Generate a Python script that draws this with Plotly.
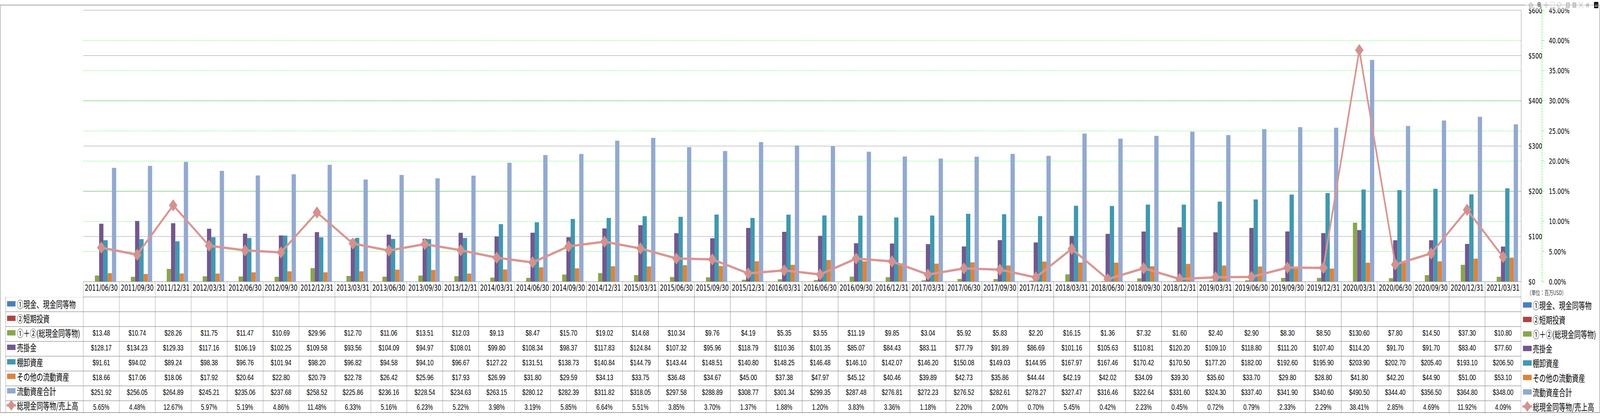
import plotly.graph_objects as go

categories = ["2011/06/30", "2011/09/30", "2011/12/31", "2012/03/31", "2012/06/30", "2012/09/30",
              "2012/12/31", "2013/03/31", "2013/06/30", "2013/09/30", "2013/12/31", "2014/03/31",
              "2014/06/30", "2014/09/30", "2014/12/31", "2015/03/31", "2015/06/30", "2015/09/30",
              "2015/12/31", "2016/03/31", "2016/06/30", "2016/09/30", "2016/12/31", "2017/03/31",
              "2017/06/30", "2017/09/30", "2017/12/31", "2018/03/31", "2018/06/30", "2018/09/30",
              "2018/12/31", "2019/03/31", "2019/06/30", "2019/09/30", "2019/12/31", "2020/03/31",
              "2020/06/30", "2020/09/30", "2020/12/31", "2021/03/31"]

cash_equiv = [None] * len(categories)          # ①現金、現金同等物 (no data)
short_invest = [None] * len(categories)        # ②短期投資 (no data)
total_cash = [13.48, 10.74, 28.26, 11.75, 11.47, 10.69, 29.96, 12.70, 11.06, 13.51, 12.03, 9.13,
              8.47, 15.70, 19.02, 14.68, 10.34, 9.76, 4.19, 5.35, 3.55, 11.19, 9.85, 3.04,
              5.92, 5.83, 2.20, 16.15, 1.36, 7.32, 1.60, 2.40, 2.90, 8.30, 8.50, 130.60,
              7.80, 14.50, 37.30, 10.80]
receivables = [128.17, 134.23, 129.33, 117.16, 106.19, 102.25, 109.58, 93.56, 104.09, 94.97, 108.01, 99.80,
               108.34, 98.37, 117.83, 124.84, 107.32, 95.96, 118.79, 110.36, 101.35, 85.07, 84.43, 83.11,
               77.79, 91.89, 86.69, 101.16, 105.63, 110.81, 120.20, 109.10, 118.80, 111.20, 107.40, 114.20,
               91.70, 91.70, 83.40, 77.60]
inventory = [91.61, 94.02, 89.24, 98.38, 96.76, 101.94, 98.20, 96.82, 94.58, 94.10, 96.67, 127.22,
             131.51, 138.73, 140.84, 144.79, 143.44, 148.51, 140.80, 148.25, 146.48, 146.10, 142.07, 146.20,
             150.08, 149.03, 144.95, 167.97, 167.46, 170.42, 170.50, 177.20, 182.00, 192.60, 195.90, 203.90,
             202.70, 205.40, 193.10, 206.50]
other_current = [18.66, 17.06, 18.06, 17.92, 20.64, 22.80, 20.79, 22.78, 26.42, 25.96, 17.93, 26.99,
                 31.80, 29.59, 34.13, 33.75, 36.48, 34.67, 45.00, 37.38, 47.97, 45.12, 40.46, 39.89,
                 42.73, 35.86, 44.44, 42.19, 42.02, 34.09, 39.30, 35.60, 33.70, 29.80, 28.80, 41.80,
                 42.20, 44.90, 51.00, 53.10]
total_current = [251.92, 256.05, 264.89, 245.21, 235.06, 237.68, 258.52, 225.86, 236.16, 228.54, 234.63, 263.15,
                 280.12, 282.39, 311.82, 318.05, 297.58, 288.89, 308.77, 301.34, 299.35, 287.48, 276.81, 272.23,
                 276.52, 282.61, 278.27, 327.47, 316.46, 322.64, 331.60, 324.30, 337.40, 341.90, 340.60, 490.50,
                 344.40, 356.50, 364.80, 348.00]
cash_to_sales = [5.65, 4.48, 12.67, 5.97, 5.19, 4.86, 11.48, 6.33, 5.16, 6.23, 5.22, 3.98,
                 3.19, 5.85, 6.64, 5.51, 3.85, 3.70, 1.37, 1.88, 1.20, 3.83, 3.36, 1.18,
                 2.20, 2.00, 0.70, 5.45, 0.42, 2.23, 0.45, 0.72, 0.79, 2.33, 2.29, 38.41,
                 2.85, 4.69, 11.92, 4.09]

bar_names = ["①現金、現金同等物", "②短期投資", "①＋②(総現金同等物)", "売掛金", "棚卸資産",
             "その他の流動資産", "流動資産合計"]
line_name = "総現金同等物/売上高"
bar_series = [cash_equiv, short_invest, total_cash, receivables, inventory, other_current, total_current]
bar_colors = ["#4A7EBB", "#AA4643", "#89A54E", "#71588F", "#4198AF", "#DB843D", "#93A9CF"]
line_color = "#D99694"

# ---- layout geometry (pixels) ----
W, H = 5877, 1071
PL, PR, PT, PB = 306, 5587, 15, 726
TL = 21
Y2X = 5664
HDR_H, ROW_H = 39, 38
GRAY = "#888888"
CJK = "Noto Sans CJK JP"


def px(x):
    return x / W


def py(y):
    return 1 - y / H


fig = go.Figure()

for name, vals, col in zip(bar_names, bar_series, bar_colors):
    fig.add_trace(go.Bar(x=categories, y=vals, name=name, marker=dict(color=col, line=dict(width=0)),
                         showlegend=False, xaxis="x", yaxis="y"))

fig.add_trace(go.Scatter(x=categories, y=cash_to_sales, name=line_name, mode="lines+markers",
                         line=dict(color=line_color, width=6),
                         marker=dict(symbol="diamond", size=24, color="#D4918F"),
                         showlegend=False, xaxis="x", yaxis="y2"))

# ---- data table ----
def money(v):
    return "" if v is None else "${:.2f}".format(v)


cell_cols = [[""] * 8]
for i in range(len(categories)):
    col = [money(s[i]) for s in bar_series] + ["{:.2f}%".format(cash_to_sales[i])]
    cell_cols.append(col)

ncol = len(categories)
col_w = (PR - PL) / ncol
fig.add_trace(go.Table(
    domain=dict(x=[px(TL), px(PR)], y=[0, py(PB)]),
    columnwidth=[PL - TL] + [col_w] * ncol,
    header=dict(values=[""] + categories, height=HDR_H, align="center",
                fill=dict(color="white"),
                line=dict(color=["rgba(0,0,0,0)"] + [GRAY] * ncol, width=1),
                font=dict(family="DejaVu Sans", size=21, color="black")),
    cells=dict(values=cell_cols, height=ROW_H, align="center",
               fill=dict(color="white"),
               line=dict(color=GRAY, width=1),
               font=dict(family="Liberation Sans", size=21, color="black")),
))

shapes = []
annotations = []

# figure border
shapes.append(dict(type="rect", xref="paper", yref="paper", x0=px(1), x1=px(W - 1), y0=py(H - 2), y1=py(1),
                   line=dict(color=GRAY, width=1.5), fillcolor="rgba(0,0,0,0)", layer="above"))
# secondary axis dashed line
shapes.append(dict(type="line", xref="paper", yref="paper", x0=px(Y2X), x1=px(Y2X), y0=py(PB), y1=py(PT),
                   line=dict(color="#00FF00", width=1.5, dash="4px,3px")))

labels = bar_names + [line_name]
row_centers = [PB + HDR_H + ROW_H * i + ROW_H / 2 for i in range(8)]


def add_key(i, bx0, bx1, tx, yc):
    if i < 7:
        shapes.append(dict(type="rect", xref="paper", yref="paper", x0=px(bx0), x1=px(bx1),
                           y0=py(yc + 7), y1=py(yc - 7), fillcolor=bar_colors[i], line=dict(width=0)))
    else:
        shapes.append(dict(type="line", xref="paper", yref="paper", x0=px(bx0 - 2), x1=px(bx1 + 2),
                           y0=py(yc), y1=py(yc), line=dict(color=line_color, width=6)))
        cx = (bx0 + bx1) / 2
        d = 14
        path = "M {} {} L {} {} L {} {} L {} {} Z".format(px(cx - d), py(yc), px(cx), py(yc - d),
                                                      px(cx + d), py(yc), px(cx), py(yc + d))
        shapes.append(dict(type="path", xref="paper", yref="paper", path=path,
                           fillcolor="#D4918F", line=dict(width=0)))
    annotations.append(dict(xref="paper", yref="paper", x=px(tx), y=py(yc), xanchor="left", yanchor="middle",
                            text=labels[i], showarrow=False,
                            font=dict(family=CJK, size=24, color="black")))


for i, yc in enumerate(row_centers):
    add_key(i, 26, 57, 60, yc)
    add_key(i, 5594, 5626, 5628, yc + 3)

annotations.append(dict(xref="paper", yref="paper", x=px(5607), y=py(754), xanchor="left", yanchor="middle",
                        text="（単位：百万USD）", showarrow=False,
                        font=dict(family=CJK, size=16, color="#333333")))

fig.update_layout(
    width=W, height=H,
    margin=dict(l=0, r=0, t=0, b=0),
    paper_bgcolor="white", plot_bgcolor="white",
    barmode="group", bargap=0.17, bargroupgap=0,
    showlegend=False,
    xaxis=dict(domain=[px(PL), px(PR)], type="category", showticklabels=False, ticks="",
               range=[-0.5, len(categories) - 0.5], autorange=False,
               showline=True, mirror=True, linecolor=GRAY, linewidth=1, showgrid=False,
               anchor="y"),
    yaxis=dict(domain=[py(PB), py(PT)], range=[0, 600], dtick=100, tickprefix="$", side="right",
               showgrid=True, gridcolor=GRAY, gridwidth=1, showline=True, linecolor=GRAY,
               zeroline=False, ticks="outside", ticklen=20, tickcolor="rgba(0,0,0,0)",
               ticklabelstandoff=2,
               tickfont=dict(family="DejaVu Sans", size=20, color="black"), anchor="x"),
    yaxis2=dict(overlaying="y", side="right", anchor="free", position=px(Y2X), range=[0, 45], dtick=5,
                tickformat=".2f", ticksuffix="%", showgrid=True, gridcolor="#00FF00", gridwidth=1,
                griddash="4px,3px", zeroline=False, showline=False, ticks="outside", ticklen=8,
                tickcolor="#00FF00", ticklabelstandoff=12,
                tickfont=dict(family="DejaVu Sans", size=20, color="black")),
    shapes=shapes,
    annotations=annotations,
)

# Fit the fixed-size figure into the browser viewport if the viewport differs from 5877x1071
fit_js = """
(function(){
  var gd = document.getElementById('{plot_id}');
  var W = %d, H = %d;
  document.documentElement.style.overflow = 'hidden';
  document.body.style.margin = '0';
  document.body.style.overflow = 'hidden';
  var vw = window.innerWidth, vh = window.innerHeight;
  var sx = vw / W, sy = vh / H;
  if (Math.abs(sx - 1) > 0.005 || Math.abs(sy - 1) > 0.005) {
    var p = gd.parentElement;
    p.style.width = vw + 'px';
    p.style.height = vh + 'px';
    p.style.overflow = 'hidden';
    gd.style.transformOrigin = '0 0';
    gd.style.transform = 'scale(' + sx + ',' + sy + ')';
  }
})();
""" % (W, H)

fig.write_html("out.html", post_script=fit_js)
